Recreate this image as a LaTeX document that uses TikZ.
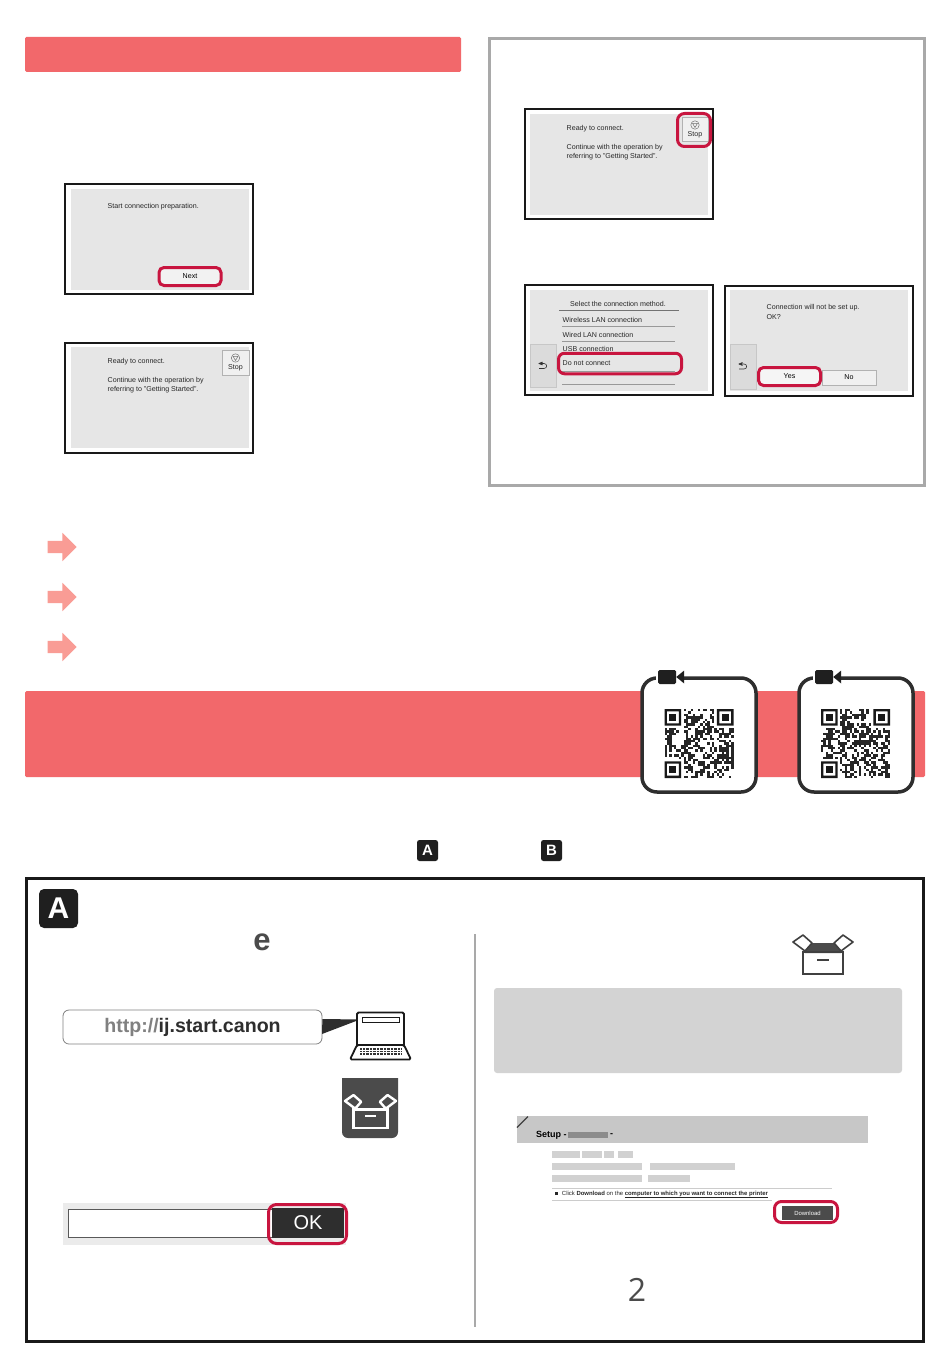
\documentclass[tikz,border=0pt]{standalone}
\usepackage{fontspec}
\setmainfont{Liberation Sans}
\newfontfamily\openfont{Open Sans}
\usetikzlibrary{arrows,shapes.arrows}

\definecolor{bandred}{HTML}{F2686B}
\definecolor{markred}{HTML}{C8153F}
\definecolor{panelgray}{HTML}{E6E6E6}
\definecolor{notegray}{HTML}{D3D3D3}
\definecolor{ruleslate}{HTML}{A9A9A9}
\definecolor{inkdark}{HTML}{2E2E2E}
\definecolor{softdark}{HTML}{4B4B4B}
\definecolor{pinkarrow}{HTML}{F99C95}

\tikzset{
  frame/.style={draw=black!90,line width=2,fill=white,minimum width=188,minimum height=110,inner sep=0},
  panel/.style={fill=panelgray,minimum width=178,minimum height=101,inner sep=0},
  screentext/.style={anchor=west,inner sep=0,font=\fontsize{7.1}{9.2}\selectfont,text=black!85,align=left},
  keybutton/.style={draw=black!30,line width=.5,fill=panelgray!60!white,inner sep=0,font=\fontsize{7.1}{8}\selectfont},
  backbutton/.style={fill=black!14,draw=black!22,line width=.4,minimum width=26,minimum height=43,inner sep=0},
  redmark/.style={draw=markred,line width=3,rounded corners=5,inner sep=0},
  badge/.style={fill=black!88,rounded corners=2.5,text=white,inner sep=0,font=\bfseries},
  pointer/.style={single arrow,fill=pinkarrow,minimum height=29,minimum width=28,
    single arrow head extend=8,single arrow head indent=0,inner sep=0},
  qrcard/.style={draw=inkdark,line width=3.5,fill=white,rounded corners=15,minimum width=114,minimum height=114,inner sep=0},
  blurred/.style={fill=black!22},
}

% one QR patch, top left corner at #1,#2
\newcommand{\qrpatch}[2]{
  \begin{scope}[shift={(#1,#2)},x=2.38pt,y=-2.38pt]
    \foreach \cx/\cy in {0/0,22/0,0/22} {
      \fill[black!90,even odd rule] (\cx,\cy) rectangle +(7,7) (\cx+1,\cy+1) rectangle +(5,5);
      \fill[black!90] (\cx+2,\cy+2) rectangle +(3,3);
    }
    \foreach \qi in {0,...,28} {
      \foreach \qj in {0,...,28} {
        \pgfmathrandominteger{\qrbit}{0}{1}
        \pgfmathtruncatemacro{\inside}{(\qi<8 && \qj<8) || (\qi>20 && \qj<8) || (\qi<8 && \qj>20)}
        \ifnum\inside=0 \ifnum\qrbit=1
          \fill[black!85] (\qi,\qj) rectangle +(1,1);
        \fi\fi
      }
    }
  \end{scope}
}

% open box glyph, centred at #1,#2
\newcommand{\boxglyph}[7]{
  \begin{scope}[shift={(#1,#2)},scale=#3]
    \fill[#5] (-18,-4) -- (-11,-12) -- (11,-12) -- (18,-4) -- (18,-2) -- (-18,-2) -- cycle;
    \draw[#4,line width=#7,fill=#6,line join=round] (-30,-13) -- (-20,-20) -- (-11,-12) -- (-18,-4) -- cycle;
    \draw[#4,line width=#7,fill=#6,line join=round] (30,-13) -- (20,-20) -- (11,-12) -- (18,-4) -- cycle;
    \draw[#4,line width=#7] (-20,-3) rectangle (20,19);
    \draw[#4,line width=#7] (-6,5) -- (6,5);
  \end{scope}
}

% back symbol on a touch screen
\newcommand{\backsign}[2]{
  \draw[->,>=stealth',line width=.6,black!80] (#1-3.5,#2+3) -- (#1+1.5,#2+3)
    .. controls (#1+5,#2+3) and (#1+5,#2-2) .. (#1+1.5,#2-2) -- (#1-4,#2-2);
}

% stop symbol on a touch screen
\newcommand{\stopsign}[2]{
  \draw[black!55,line width=.5] (#1,#2) circle (4.2);
  \draw[black!55,line width=.5] (#1-2.4,#2-1.6) -- (#1+2.4,#2-1.6) -- (#1,#2+2.6) -- cycle;
}

\begin{document}
\begin{tikzpicture}[x=1pt,y=-1pt]
  \useasboundingbox (0,0) rectangle (950,1367);
  \fill[white] (0,0) rectangle (950,1367);

  % left column
  \node[fill=bandred,rounded corners=1.5,minimum width=436,minimum height=35,inner sep=0] (bandTop) at (243,54.5) {};

  \node[frame] (frameNext) at (158.5,239) {};
  \node[panel] (panelNext) at (159.5,239.5) {};
  \node[screentext] (textNext) at (107.5,206.5) {Start connection preparation.};
  \node[redmark,fill=panelgray!50!white,minimum width=62,minimum height=18,font=\fontsize{7.1}{8}\selectfont] (markNext) at (190,276.5) {Next};

  \node[frame] (frameReady) at (158.5,397.5) {};
  \node[panel] (panelReady) at (159.5,397.5) {};
  \node[screentext] (textReady) at (107.5,361.5) {Ready to connect.};
  \node[screentext] (textContinue) at (107.5,385.5) {Continue with the operation by\\referring to "Getting Started".};
  \node[keybutton,minimum width=27,minimum height=25] (btnStop) at (235.5,362.5) {};
  \node[inner sep=0,font=\fontsize{7.1}{8}\selectfont,text=black!85] (labelStop) at (235.5,368) {Stop};
  \stopsign{235.5}{358}

  % right column
  \node[draw=ruleslate,line width=3,minimum width=435,minimum height=447,inner sep=0] (boxStop) at (707,262) {};

  \node[frame] (frameStop) at (618.5,164) {};
  \node[panel] (panelStop) at (619,164.5) {};
  \node[screentext] (textStop) at (566.5,128.5) {Ready to connect.};
  \node[screentext] (textGo) at (566.5,152) {Continue with the operation by\\referring to "Getting Started".};
  \node[keybutton,minimum width=26,minimum height=24] (btnHalt) at (695,129) {};
  \node[inner sep=0,font=\fontsize{7.1}{8}\selectfont,text=black!85] (labelHalt) at (695,134.5) {Stop};
  \stopsign{695}{125}
  \node[redmark,rounded corners=7,minimum width=33,minimum height=33] (markHalt) at (694,130) {};

  \node[frame] (frameMethod) at (618.5,340) {};
  \node[panel] (panelMethod) at (619,340.5) {};
  \node[screentext,anchor=center] (textMethod) at (618,303.5) {Select the connection method.};
  \draw[black!55,line width=.5] (559,310) -- (679,310);
  \node[screentext] (itemWireless) at (562.5,319.5) {Wireless LAN connection};
  \node[screentext] (itemWired) at (562.5,334.5) {Wired LAN connection};
  \node[screentext] (itemUsb) at (562.5,349) {USB connection};
  \node[screentext] (itemNone) at (562.5,363.5) {Do not connect};
  \foreach \rowy in {326.5,341.5,371,384.5}
    \draw[black!40,line width=.5] (562,\rowy) -- (675,\rowy);
  \node[redmark,minimum width=123,minimum height=20.5,rounded corners=6] (markNone) at (620,363.5) {};
  \node[backbutton] (backMethod) at (543,365.5) {};
  \backsign{542.5}{365.5}

  \node[frame] (frameSure) at (818.5,340.5) {};
  \node[panel] (panelSure) at (819,340.5) {};
  \node[screentext] (textSure) at (766.5,312) {Connection will not be set up.\\OK?};
  \node[backbutton,minimum height=45] (backSure) at (743,366.5) {};
  \backsign{742.5}{366}
  \node[keybutton,minimum width=54,minimum height=15] (btnNo) at (849,377.5) {No};
  \node[redmark,fill=panelgray!40!white,minimum width=62,minimum height=18,font=\fontsize{7.1}{8}\selectfont] (markYes) at (789.5,376.5) {Yes};

  % pointers
  \node[pointer] (pointerOne) at (59,547) {\rule{0pt}{12pt}};
  \node[pointer] (pointerTwo) at (59,597) {\rule{0pt}{12pt}};
  \node[pointer] (pointerThree) at (59,647) {\rule{0pt}{12pt}};

  % band with the two QR cards
  \node[fill=bandred,rounded corners=1.5,minimum width=900,minimum height=86,inner sep=0] (bandQr) at (475,734) {};

  \node[qrcard] (cardOne) at (699,735) {};
  \node[fill=white,minimum width=27,minimum height=8,inner sep=0] (gapOne) at (669.5,677) {};
  \node[fill=black!88,rounded corners=1.5,minimum width=18,minimum height=14,inner sep=0] (camOne) at (667,677) {};
  \fill[black!88] (camOne.east) ++(0,0) -- ++(8,-6.5) -- ++(0,13) -- cycle;
  \qrpatch{664.5}{709}

  \node[qrcard] (cardTwo) at (856,735) {};
  \node[fill=white,minimum width=27,minimum height=8,inner sep=0] (gapTwo) at (826.5,677) {};
  \node[fill=black!88,rounded corners=1.5,minimum width=18,minimum height=14,inner sep=0] (camTwo) at (824,677) {};
  \fill[black!88] (camTwo.east) ++(0,0) -- ++(8,-6.5) -- ++(0,13) -- cycle;
  \qrpatch{821}{709}

  % small badges
  \node[badge,minimum size=21,font=\bfseries\fontsize{15}{15}\selectfont] (badgeA) at (427.5,850.5) {A};
  \node[badge,minimum size=21,font=\bfseries\fontsize{15}{15}\selectfont] (badgeB) at (551.5,850.5) {B};

  % big frame
  \node[draw=black!90,line width=3,minimum width=897,minimum height=463,inner sep=0] (boxA) at (475,1109.5) {};
  \node[badge,rounded corners=5,minimum size=39,font=\bfseries\fontsize{30}{30}\selectfont] (badgeBig) at (58.5,908.5) {A};
  \node[inner sep=0,text=softdark,font=\bfseries\fontsize{31}{31}\selectfont] (edgeSign) at (262,942) {e};
  \draw[ruleslate,line width=1.6] (475,934) -- (475,1327);

  % address bubble and laptop
  \node[draw=black!50,line width=.8,rounded corners=6,fill=white,minimum width=259,minimum height=34,inner sep=0,font=\bfseries\fontsize{19.6}{20}\selectfont,text=inkdark] (urlBox) at (192.5,1027) {\textcolor{black!50}{http://}ij.start.canon};
  \coordinate (screenTip) at (360,1019.5);
  \fill[inkdark] (urlBox.east) ++(0,-8) -- (screenTip) -- (322,1034) -- cycle;
  \draw[black!90,line width=1.8,rounded corners=1.5,fill=white] (357,1046) -- (357,1012.5) -- (404,1012.5) -- (404,1046);
  \draw[black!90,line width=1.8,rounded corners=1.5,line join=round,fill=white] (357,1045) -- (350,1059.5) -- (411,1059.5) -- (404,1045) -- cycle;
  \draw[black!90,line width=.5] (362,1017) rectangle (399,1022);
  \foreach \keyy in {1049,1051.5,1054}
    \draw[black!80,line width=1.2,dash pattern=on .9pt off .5pt] (360,\keyy) -- (401,\keyy);
  \fill[white] (357.5,1019) -- (362,1019) -- (362,1020) -- cycle;

  % software icon
  \fill[softdark] (342,1078) -- (398,1078) [rounded corners=6] -- (398,1138) -- (342,1138) [sharp corners] -- cycle;
  \boxglyph{370.5}{1112}{.85}{white}{softdark}{softdark}{2.4}

  % OK row
  \node[fill=black!8,minimum width=283,minimum height=42,inner sep=0] (rowOk) at (204,1224) {};
  \node[draw=black!65,line width=1,fill=white,minimum width=210,minimum height=28,inner sep=0] (inputOk) at (173,1223) {};
  \node[fill=inkdark,minimum width=72,minimum height=30,inner sep=0,text=white,font=\fontsize{20}{20}\selectfont] (btnOk) at (308,1223) {OK};
  \node[redmark,rounded corners=8,minimum width=78,minimum height=39] (markOk) at (307.5,1224) {};

  % right part of the big frame
  \boxglyph{823}{955}{1}{black!75}{softdark}{white}{1.6}
  \node[fill=notegray,rounded corners=3,minimum width=408,minimum height=85,inner sep=0] (noteBox) at (698,1030.5) {};

  \node[fill=black!22,minimum width=351,minimum height=27,inner sep=0] (setupBand) at (692.5,1129.5) {};
  \draw[black!75,line width=1.2] (517,1127.5) -- (528,1116.5);
  \fill[blurred] (536,1121) rectangle (574,1126);
  \node[anchor=west,inner sep=0,font=\bfseries\fontsize{9}{10}\selectfont] (setupTitle) at (536,1135) {Setup -};
  \fill[black!45] (568,1132) rectangle (608,1138);
  \node[anchor=west,inner sep=0,font=\bfseries\fontsize{9}{10}\selectfont] (setupDash) at (610,1135) {-};
  \foreach \blurx/\blury/\blurw in {552/1151/28,582/1151/20,604/1151/10,618/1151/15,552/1163/90,650/1163/85,552/1175/90,648/1175/42} {
    \fill[black!18] (\blurx,\blury) rectangle +(\blurw,7);
  }
  \draw[black!20,line width=.5] (552,1188) -- (832,1188);
  \draw[black!20,line width=.5] (552,1200.5) -- (772,1200.5);
  \node[anchor=west,inner sep=0,font=\fontsize{5.95}{7}\selectfont,text=black!85] (setupClick) at (555,1194.5) {\rule{2.6pt}{2.6pt}\hspace{2.5pt} Click \textbf{Download} on the \textbf{\underline{computer to which you want to connect the printer}}};
  \node[fill=softdark,minimum width=51,minimum height=14,inner sep=0,text=white,font=\fontsize{5.95}{7}\selectfont] (btnDownload) at (807.5,1213) {Download};
  \node[redmark,rounded corners=7,minimum width=63,minimum height=21] (markDownload) at (806,1212) {};

  \node[inner sep=0,text=softdark,font=\openfont\fontsize{32}{32}\selectfont] (pageNum) at (637,1290) {2};
\end{tikzpicture}
\end{document}
